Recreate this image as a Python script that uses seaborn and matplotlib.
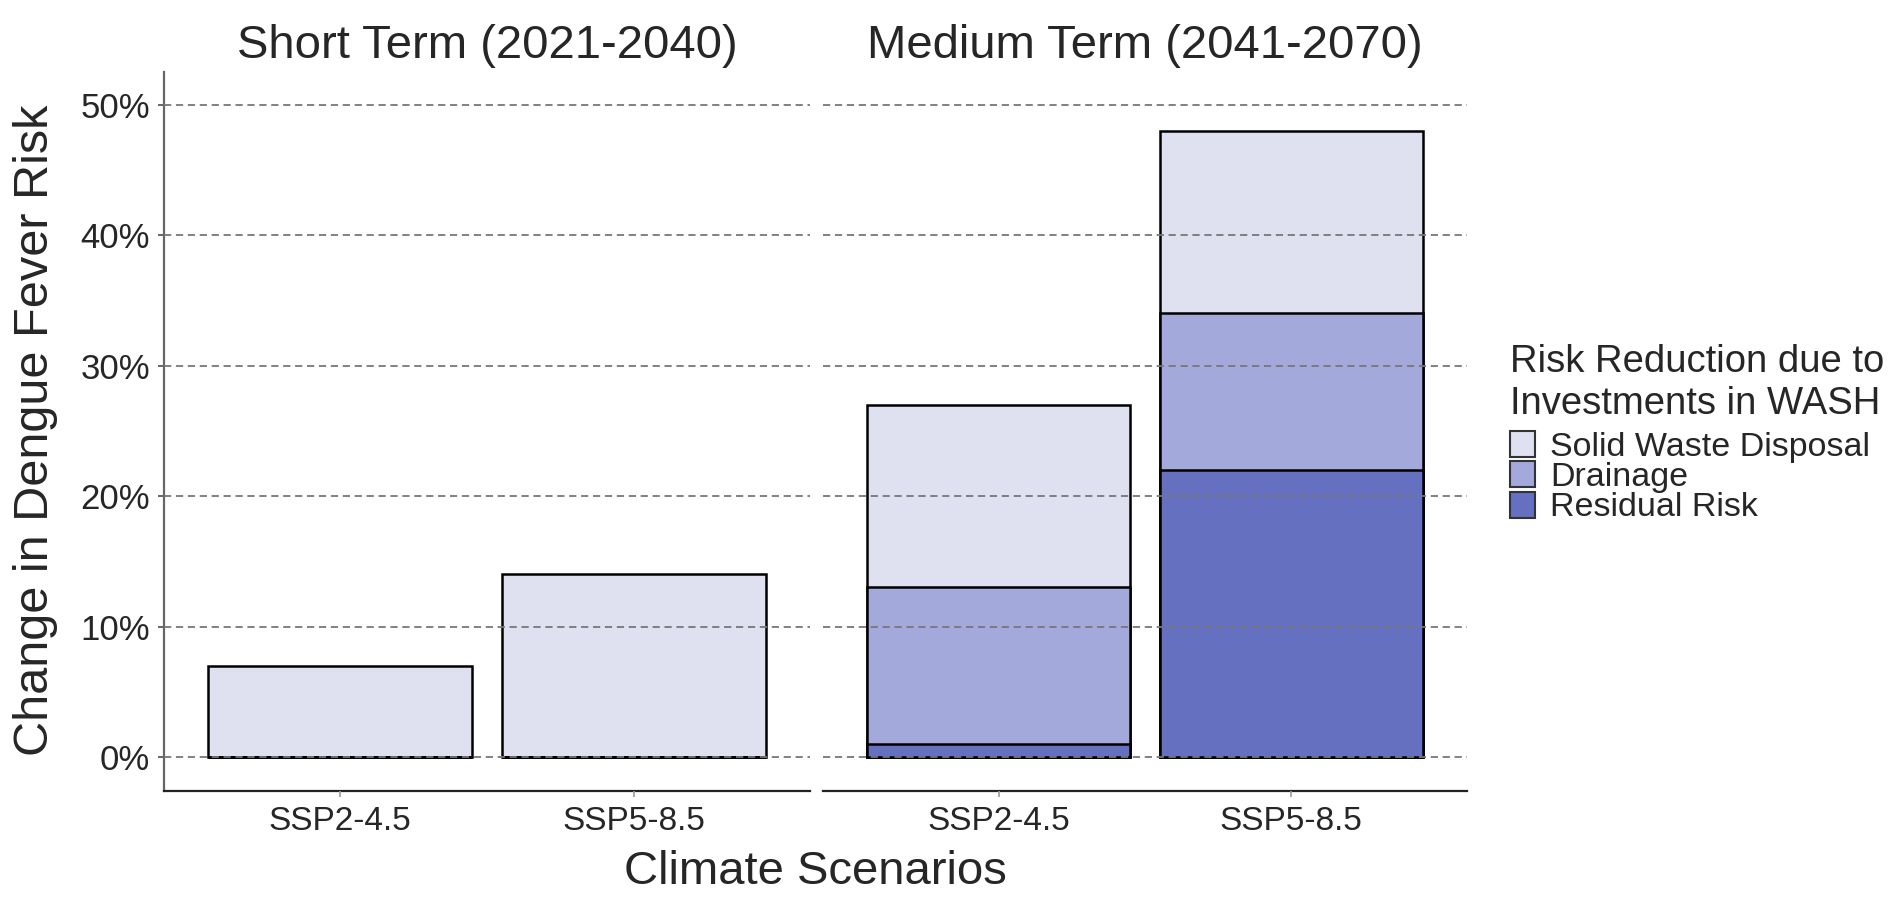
import matplotlib
matplotlib.use("Agg")
import matplotlib.pyplot as plt
import seaborn as sns
import pandas as pd
from matplotlib.patches import Patch
from matplotlib.ticker import FuncFormatter

# ---- data ----
scenarios = ["SSP2-4.5", "SSP5-8.5"]
periods = ["Short Term (2021-2040)", "Medium Term (2041-2070)"]
layers = ["Solid Waste Disposal", "Drainage", "Residual Risk"]
residual_short = [0, 0]
drainage_short = [0, 0]
solid_short = [7, 14]
residual_medium = [1, 22]
drainage_medium = [12, 12]
solid_medium = [14, 14]
y_ticks = [0, 10, 20, 30, 40, 50]

colors = {"Solid Waste Disposal": "#DFE1F1",
          "Drainage": "#A3A9DB",
          "Residual Risk": "#6570C0"}

sns.set_style("white")
plt.rcParams["font.family"] = ["Liberation Sans", "DejaVu Sans"]

W, H = 1895, 898
fig = plt.figure(figsize=(W / 100, H / 100), dpi=100)

def fig_rect(l, r, t, b):
    return [l / W, 1 - b / H, (r - l) / W, (b - t) / H]

ax1 = fig.add_axes(fig_rect(164, 810, 72, 791))
ax2 = fig.add_axes(fig_rect(823, 1467, 72, 791))

panel_data = [
    (ax1, periods[0], residual_short, drainage_short, solid_short),
    (ax2, periods[1], residual_medium, drainage_medium, solid_medium),
]

for ax, title, res, dr, sw in panel_data:
    cum_res = list(res)
    cum_dr = [a + b for a, b in zip(res, dr)]
    cum_sw = [a + b + c for a, b, c in zip(res, dr, sw)]
    for layer, vals in [("Solid Waste Disposal", cum_sw),
                        ("Drainage", cum_dr),
                        ("Residual Risk", cum_res)]:
        df = pd.DataFrame({"scenario": scenarios, "value": vals})
        sns.barplot(data=df, x="scenario", y="value", order=scenarios,
                    color=colors[layer], saturation=1, edgecolor="black",
                    linewidth=1.8, width=0.9, errorbar=None, ax=ax)
    ax.set_xlim(-0.6, 1.6)
    ax.set_ylim(-2.6, 52.5)
    ax.set_yticks(y_ticks)
    ax.set_axisbelow(False)
    ax.yaxis.grid(True, color="#777777", linewidth=1.3, linestyle=(0, (4, 2.6)))
    ax.xaxis.grid(False)
    ax.set_title(title, fontsize=34, pad=10)
    ax.set_xlabel("")
    ax.set_ylabel("")
    for s in ["top", "right"]:
        ax.spines[s].set_visible(False)
    ax.spines["bottom"].set_color("#222222")
    ax.spines["bottom"].set_linewidth(1.6)
    ax.spines["left"].set_color("#666666")
    ax.spines["left"].set_linewidth(1.6)
    ax.tick_params(axis="x", labelsize=24, length=4, width=1.2, color="#999999",
                   pad=7, bottom=True)
    ax.tick_params(axis="y", labelsize=25, length=4, width=1.4, color="#666666",
                   pad=6, left=True)

ax1.yaxis.set_major_formatter(FuncFormatter(lambda v, p: f"{v:.0f}%"))
ax2.spines["left"].set_visible(False)
ax2.tick_params(axis="y", left=False, labelleft=False)

fig.text(36 / W, 1 - 430 / H, "Change in Dengue Fever Risk", rotation=90,
         fontsize=35, ha="center", va="center")
fig.text(815 / W, 1 - 872 / H, "Climate Scenarios", fontsize=34,
         ha="center", va="center")

handles = [Patch(facecolor=colors[l], edgecolor="#333333", linewidth=1.5)
           for l in layers]
leg = fig.legend(handles, layers, title="Risk Reduction due to\nInvestments in WASH",
                 loc="upper left", bbox_to_anchor=(1510 / W, 1 - 344 / H),
                 frameon=False, fontsize=24.5, title_fontsize=27.5,
                 alignment="left", borderpad=0, borderaxespad=0,
                 handlelength=0.74, handleheight=0.8, handletextpad=0.45,
                 labelspacing=-0.05)
leg._legend_box.sep = 7

fig.savefig("out.png", dpi=100)
